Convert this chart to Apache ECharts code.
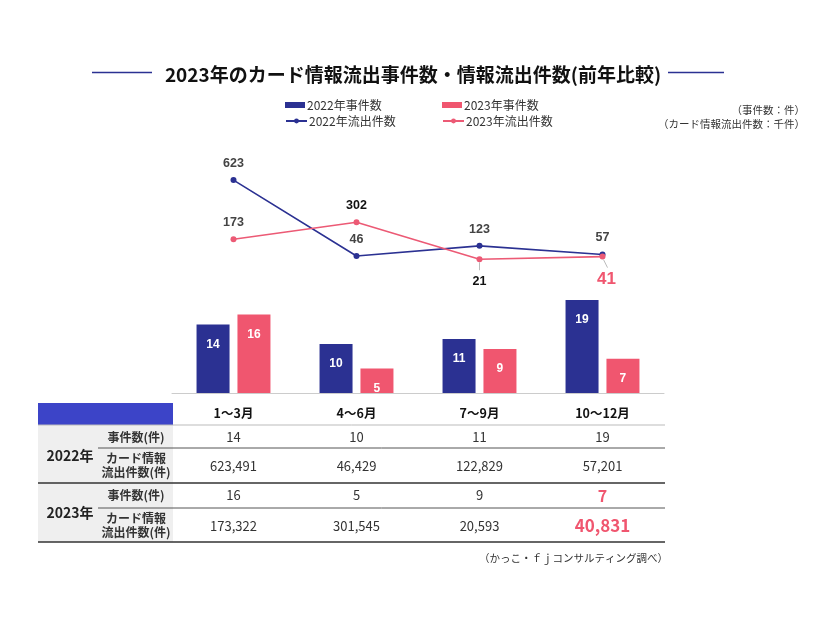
<!DOCTYPE html>
<html><head><meta charset="utf-8">
<script src="https://cdn.jsdelivr.net/npm/echarts@6/dist/echarts.min.js"></script>
<style>html,body{margin:0;padding:0;background:#fff}#c{width:826px;height:620px}</style>
</head><body><div id="c"></div>
<script>
const categories = ['1〜3月', '4〜6月', '7〜9月', '10〜12月'];
const cases2022 = [14, 10, 11, 19];
const cases2023 = [16, 5, 9, 7];
const leakK2022 = [623, 46, 123, 57];
const leakK2023 = [173, 302, 21, 41];
const leak2022 = ['623,491', '46,429', '122,829', '57,201'];
const leak2023 = ['173,322', '301,545', '20,593', '40,831'];
const seriesNames = ['2022年事件数', '2023年事件数', '2022年流出件数', '2023年流出件数'];
const titleText = '2023年のカード情報流出事件数・情報流出件数(前年比較)';

const BLUE = '#2b3192', PINK = '#f0566f', HEAD = '#3c44c8';
const JP = '"Noto Sans CJK JP", sans-serif';
const NUM = '"Liberation Sans", Arial, sans-serif';

const chart = echarts.init(document.getElementById('c'), null, {renderer: 'canvas'});

// per-point label styles for 2023 line
const lbl2023 = [
  {},
  {color: '#111'},
  {position: 'bottom', distance: 13, color: '#111'},
  {position: 'bottom', distance: 11, color: PINK, fontSize: 17, offset: [4, 0]}
];

const legText = {fontSize: 12, color: '#333', fontFamily: JP, padding: [0, 0, 0, -3]};

chart.setOption({
  backgroundColor: '#fff',
  animation: false,
  title: {
    text: titleText, left: 'center', top: 60,
    textStyle: {fontSize: 19, fontWeight: 'bold', color: '#111', fontFamily: JP}
  },
  legend: [
    {data: [seriesNames[0]], icon: 'rect', left: 280, top: 94, itemWidth: 20, itemHeight: 6, textStyle: legText},
    {data: [seriesNames[1]], icon: 'rect', left: 437, top: 94, itemWidth: 20, itemHeight: 6, textStyle: legText},
    {data: [seriesNames[2]], left: 280, top: 110, itemWidth: 21, itemHeight: 6, textStyle: legText},
    {data: [seriesNames[3]], left: 437, top: 110, itemWidth: 21, itemHeight: 6, textStyle: legText}
  ],
  grid: [
    {left: 172, right: 162, top: 170, height: 92},
    {left: 172, right: 162, top: 295, height: 98}
  ],
  xAxis: [
    {gridIndex: 0, type: 'category', data: categories, show: false},
    {gridIndex: 1, type: 'category', data: categories,
     axisLine: {lineStyle: {color: '#cccccc', width: 1}}, axisTick: {show: false},
     axisLabel: {margin: 14, color: '#111', fontWeight: 'bold', fontSize: 12.5, fontFamily: JP}}
  ],
  yAxis: [
    {gridIndex: 0, type: 'value', min: 0, max: 700, show: false},
    {gridIndex: 1, type: 'value', min: 0, max: 20, show: false}
  ],
  series: [
    {name: seriesNames[0], type: 'bar', xAxisIndex: 1, yAxisIndex: 1, data: cases2022,
     barWidth: 33, barGap: '24%', itemStyle: {color: BLUE},
     label: {show: true, position: 'insideTop', distance: 14, color: '#fff', fontWeight: 'bold', fontSize: 12, fontFamily: NUM}},
    {name: seriesNames[1], type: 'bar', xAxisIndex: 1, yAxisIndex: 1, data: cases2023,
     barWidth: 33, itemStyle: {color: PINK},
     label: {show: true, position: 'insideTop', distance: 14, color: '#fff', fontWeight: 'bold', fontSize: 12, fontFamily: NUM}},
    {name: seriesNames[2], type: 'line', xAxisIndex: 0, yAxisIndex: 0, data: leakK2022,
     symbol: 'circle', symbolSize: 6, itemStyle: {color: BLUE}, lineStyle: {color: BLUE, width: 1.6},
     label: {show: true, position: 'top', distance: 7, color: '#444', fontWeight: 'bold', fontSize: 12.5, fontFamily: NUM}},
    {name: seriesNames[3], type: 'line', xAxisIndex: 0, yAxisIndex: 0,
     data: leakK2023.map((v, i) => ({value: v, label: lbl2023[i]})),
     symbol: 'circle', symbolSize: 6, itemStyle: {color: '#ec5a75'}, lineStyle: {color: '#ec5a75', width: 1.6},
     label: {show: true, position: 'top', distance: 7, color: '#444', fontWeight: 'bold', fontSize: 12.5, fontFamily: NUM}}
  ]
});

// ---- table and decorations ----
const colX = categories.map(c => chart.convertToPixel({xAxisIndex: 1}, c));
const L = 38, R = 665;
const g = [];
function line(x1, y1, x2, y2, stroke, w) {
  g.push({type: 'line', silent: true, shape: {x1, y1, x2, y2}, style: {stroke, lineWidth: w}, z: 10});
}
function text(t, x, y, font, fill, align, lh) {
  g.push({type: 'text', silent: true, z: 11, style: {text: t, x, y, font, fill, textAlign: align || 'center', textVerticalAlign: 'middle', lineHeight: lh || undefined}});
}
// title side rules
line(92, 72.5, 152, 72.5, BLUE, 1.3);
line(668, 72.5, 724, 72.5, BLUE, 1.3);
// unit notes
text('（事件数：件）', 805, 110, '10.5px ' + JP, '#333', 'right');
text('（カード情報流出件数：千件）', 805, 124, '10.5px ' + JP, '#333', 'right');
// leader lines for labels below
const p21 = chart.convertToPixel({seriesIndex: 3}, [2, leakK2023[2]]);
const p41 = chart.convertToPixel({seriesIndex: 3}, [3, leakK2023[3]]);
line(p21[0], p21[1] + 3, p21[0], p21[1] + 11, '#bbbbbb', 1);
line(p41[0] + 1, p41[1] + 3, p41[0] + 5, p41[1] + 11, '#bbbbbb', 1);
// table
g.push({type: 'rect', silent: true, z: 5, shape: {x: L, y: 403, width: 135, height: 22}, style: {fill: HEAD}});
g.push({type: 'rect', silent: true, z: 5, shape: {x: L, y: 425, width: 135, height: 117}, style: {fill: '#efefef'}});
line(L, 425, R, 425, '#bbbbbb', 1);
line(98, 448, R, 448, '#555555', 1);
line(L, 483, R, 483, '#333333', 1.5);
line(98, 508, R, 508, '#555555', 1);
line(L, 542, R, 542, '#333333', 1.5);
text('2022年', 70, 456, 'bold 14px ' + JP, '#222');
text('2023年', 70, 513, 'bold 14px ' + JP, '#222');
text('事件数(件)', 136, 437, 'bold 12px ' + JP, '#333');
text('カード情報\n流出件数(件)', 136, 465.5, 'bold 12px ' + JP, '#333', 'center', 14);
text('事件数(件)', 136, 495.5, 'bold 12px ' + JP, '#333');
text('カード情報\n流出件数(件)', 136, 525.5, 'bold 12px ' + JP, '#333', 'center', 14);
const last = categories.length - 1;
categories.forEach((c, i) => {
  const x = colX[i];
  text(String(cases2022[i]), x, 437, '13px ' + JP, '#333');
  text(leak2022[i], x, 466, '13px ' + JP, '#333');
  if (i === last) {
    text(String(cases2023[i]), x, 495.5, 'bold 16px ' + JP, PINK);
    text(leak2023[i], x, 526, 'bold 17px ' + JP, PINK);
  } else {
    text(String(cases2023[i]), x, 495.5, '13px ' + JP, '#333');
    text(leak2023[i], x, 526, '13px ' + JP, '#333');
  }
});
text('（かっこ・ｆｊコンサルティング調べ）', 668, 558, '10.5px ' + JP, '#333', 'right');
chart.setOption({graphic: g});
</script>
</body></html>
